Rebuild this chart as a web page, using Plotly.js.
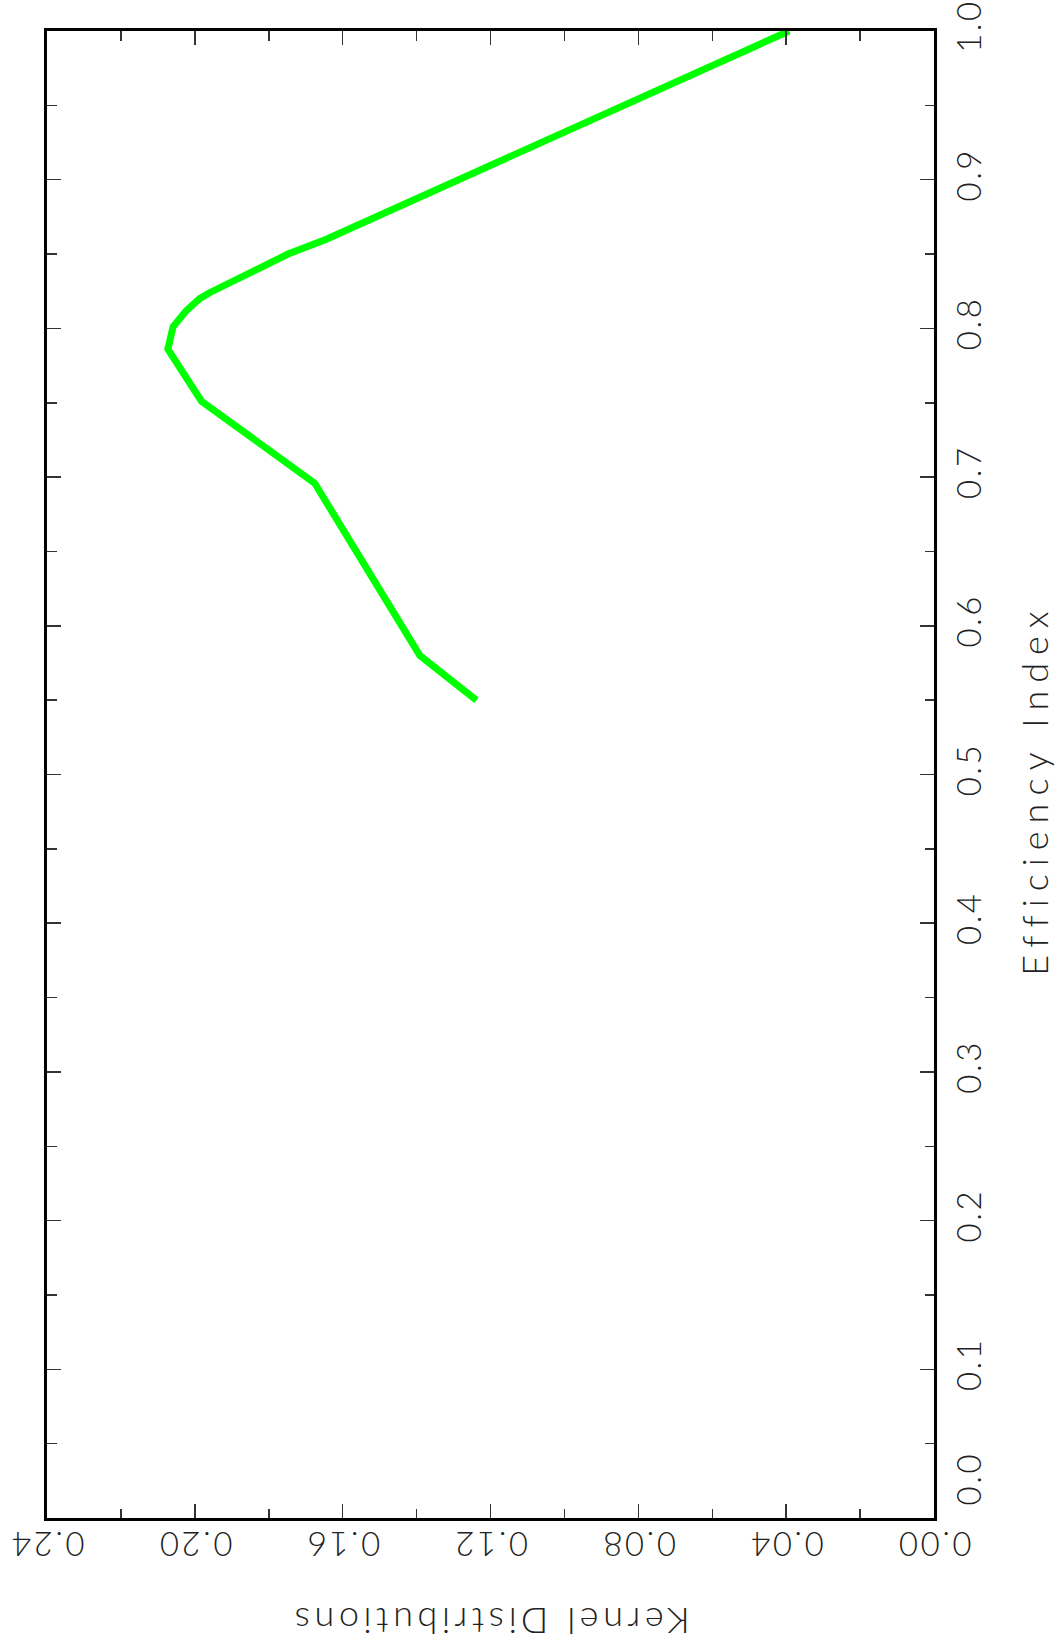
<!DOCTYPE html>
<html>
<head>
<meta charset="utf-8">
<script src="https://cdn.plot.ly/plotly-3.0.1.min.js"></script>
<style>
html,body{margin:0;padding:0;background:#fff;}
#chart{width:1060px;height:1650px;}
#chart .xtick text, #chart .ytick text{letter-spacing:2.5px;}
#chart g.annotation[data-index="0"] text{letter-spacing:4.6px;}
#chart g.annotation[data-index="1"] text{letter-spacing:8px;}
</style>
</head>
<body>
<div id="chart"></div>
<script>
// Kernel density (horizontal, reversed) vs efficiency index (vertical)
var kernelValues = [0.1238, 0.1391, 0.1676, 0.1982, 0.2073, 0.2059, 0.2023, 0.1987, 0.1960, 0.1748, 0.1644, 0.0392];
var efficiencyIndex = [0.550, 0.580, 0.696, 0.751, 0.786, 0.801, 0.812, 0.820, 0.824, 0.850, 0.860, 1.000];
var kernelTickVals = [0.00, 0.04, 0.08, 0.12, 0.16, 0.20, 0.24];
var kernelTickText = ["0.00", "0.04", "0.08", "0.12", "0.16", "0.20", "0.24"];
var effTickVals = [0.0, 0.1, 0.2, 0.3, 0.4, 0.5, 0.6, 0.7, 0.8, 0.9, 1.0];
// the first label sits a little above its tick, clear of the 0.00 label
var effTickText = ["\u00a0\u00a0\u00a0\u00a0\u00a0\u00a00.0", "0.1", "0.2", "0.3", "0.4", "0.5", "0.6", "0.7", "0.8", "0.9", "1.0"];
var xTitle = "Kernel Distributions";
var yTitle = "Efficiency Index";

var fontFamily = "Lato, 'DejaVu Sans', sans-serif";
var tickFont = {family: fontFamily, size: 33, color: "#222", weight: 300};
var titleFont = {family: fontFamily, size: 36, color: "#222", weight: 300};

var trace = {
  x: kernelValues,
  y: efficiencyIndex,
  type: "scatter",
  mode: "lines",
  line: {color: "#00ff00", width: 7},
  hoverinfo: "none"
};

var layout = {
  width: 1060,
  height: 1650,
  margin: {l: 47, r: 126, t: 31, b: 132},
  paper_bgcolor: "#fff",
  plot_bgcolor: "#fff",
  showlegend: false,
  xaxis: {
    range: [0.24, 0],
    showgrid: false,
    zeroline: false,
    showline: true,
    linecolor: "#000",
    linewidth: 3,
    mirror: "ticks",
    ticks: "inside",
    ticklen: 14,
    tickwidth: 1.5,
    tickcolor: "#333",
    tickmode: "array",
    tickvals: kernelTickVals,
    ticktext: kernelTickText,
    tickangle: 180,
    ticklabelstandoff: 4,
    tickfont: tickFont,
    minor: {dtick: 0.02, ticks: "inside", ticklen: 9.5, tickwidth: 1.5, tickcolor: "#333", showgrid: false}
  },
  yaxis: {
    range: [0, 1],
    side: "right",
    showgrid: false,
    zeroline: false,
    showline: true,
    linecolor: "#000",
    linewidth: 3,
    mirror: "ticks",
    ticks: "inside",
    ticklen: 14,
    tickwidth: 1.5,
    tickcolor: "#333",
    tickmode: "array",
    tickvals: effTickVals,
    ticktext: effTickText,
    tickangle: -90,
    ticklabelstandoff: 4,
    tickfont: tickFont,
    minor: {dtick: 0.05, ticks: "inside", ticklen: 9.5, tickwidth: 1.5, tickcolor: "#333", showgrid: false}
  },
  annotations: [
    {
      text: xTitle, xref: "paper", yref: "paper", x: 0.5, y: -0.07,
      xanchor: "center", yanchor: "middle", showarrow: false, textangle: 180,
      font: titleFont
    },
    {
      text: yTitle, xref: "paper", yref: "paper", x: 1.113, y: 0.49,
      xanchor: "center", yanchor: "middle", showarrow: false, textangle: -90,
      font: titleFont
    }
  ]
};

Plotly.newPlot("chart", [trace], layout, {displayModeBar: false, staticPlot: true});
</script>
</body>
</html>
